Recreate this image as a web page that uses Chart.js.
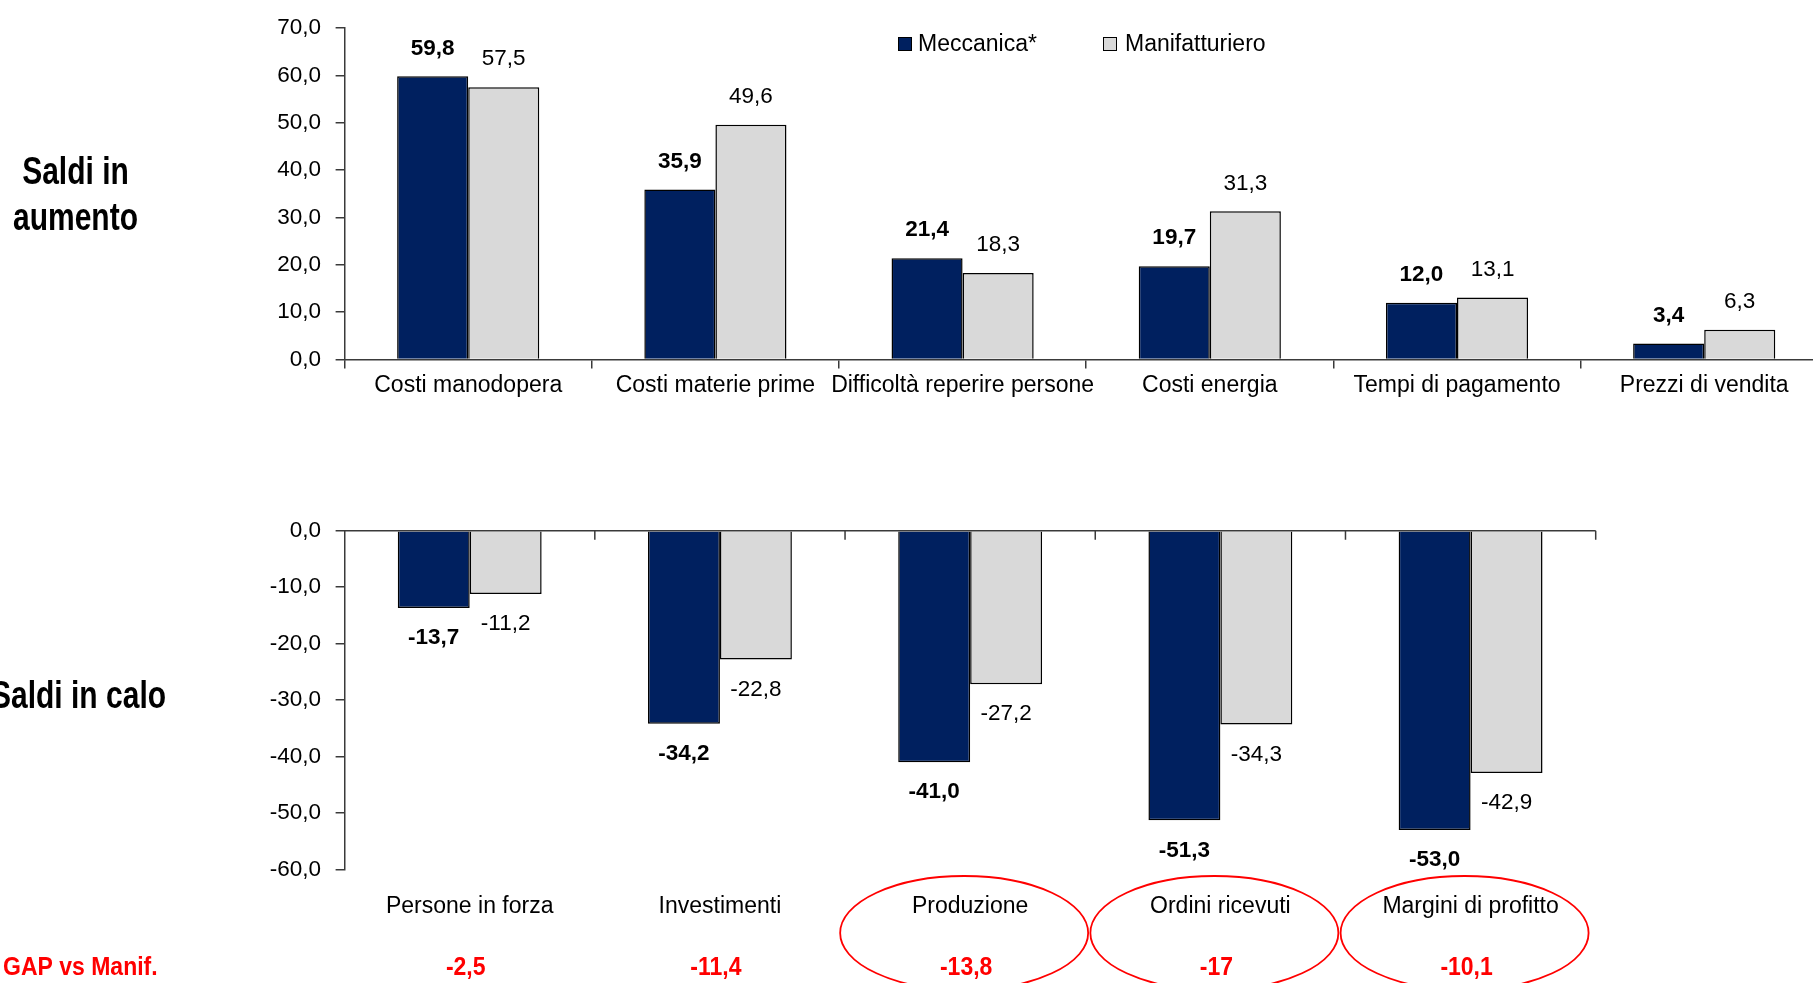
<!DOCTYPE html>
<html>
<head>
<meta charset="utf-8">
<script src="https://cdn.jsdelivr.net/npm/chart.js@4.4.1/dist/chart.umd.min.js"></script>
<style>
  body { margin: 0; background: #fff; }
  #wrap { position: relative; width: 1813px; height: 983px; overflow: hidden; background: #fff; }
  #wrap canvas { position: absolute; }
  .txt { position: absolute; font-family: 'Liberation Sans', Arial, sans-serif; color: #000; white-space: nowrap; }
  .title { font-weight: bold; font-size: 30px; line-height: 30px; transform: scaleY(1.3); transform-origin: 50% 50%; }
  .leg { font-size: 23px; line-height: 26px; }
  .box { position: absolute; width: 12px; height: 12px; border: 1.5px solid #000; }
</style>
</head>
<body>
<div id="wrap">
  <canvas id="top" width="1840" height="430" style="left:0;top:0"></canvas>
  <canvas id="bottom" width="1813" height="513" style="left:0;top:470px"></canvas>

  <div class="txt title" style="left:0;top:156px;width:151px;text-align:center">Saldi in</div>
  <div class="txt title" style="left:0;top:202px;width:151px;text-align:center">aumento</div>
  <div class="txt title" style="left:-9px;top:680px">Saldi in calo</div>

  <div class="box" style="left:898px;top:37px;background:#00205F"></div>
  <div class="txt leg" style="left:918px;top:30px">Meccanica*</div>
  <div class="box" style="left:1103px;top:37px;background:#D9D9D9"></div>
  <div class="txt leg" style="left:1125px;top:30px">Manifatturiero</div>
</div>
<script>
var FAMILY = "'Liberation Sans', Arial, sans-serif";
var NAVY = '#00205F';
var GREY = '#D9D9D9';
var AXIS = '#3a3a3a';

// dati - saldi in aumento
var upCategories = ['Costi manodopera', 'Costi materie prime', 'Difficoltà reperire persone', 'Costi energia', 'Tempi di pagamento', 'Prezzi di vendita'];
var upMeccanica = [59.8, 35.9, 21.4, 19.7, 12.0, 3.4];
var upManif = [57.5, 49.6, 18.3, 31.3, 13.1, 6.3];
var upTicks = [0, 10, 20, 30, 40, 50, 60, 70];

// dati - saldi in calo
var downCategories = ['Persone in forza', 'Investimenti', 'Produzione', 'Ordini ricevuti', 'Margini di profitto'];
var downMeccanica = [-13.7, -34.2, -41.0, -51.3, -53.0];
var downManif = [-11.2, -22.8, -27.2, -34.3, -42.9];
var downTicks = [0, -10, -20, -30, -40, -50, -60];

// gap vs manifatturiero
var gapValues = [-2.5, -11.4, -13.8, -17, -10.1];
var gapCircled = [false, false, true, true, true];

function fmt(v) {
  return v.toFixed(1).replace('.', ',');
}

var valueLabels = {
  id: 'valueLabels',
  afterDatasetsDraw: function (chart) {
    var ctx = chart.ctx;
    chart.data.datasets.forEach(function (ds, i) {
      var meta = chart.getDatasetMeta(i);
      meta.data.forEach(function (bar, j) {
        var v = ds.data[j];
        ctx.save();
        ctx.font = (i === 0 ? 'bold ' : '') + '22.5px ' + FAMILY;
        ctx.fillStyle = '#000';
        ctx.textAlign = 'center';
        ctx.textBaseline = 'middle';
        ctx.fillText(fmt(v), bar.x, v >= 0 ? bar.y - 28 : bar.y + 30);
        ctx.restore();
      });
    });
  }
};

// linea dello zero con tacche verso il basso (grafico in basso)
var zeroAxis = {
  id: 'zeroAxis',
  afterDatasetsDraw: function (chart) {
    var ctx = chart.ctx, x = chart.scales.x, y = chart.scales.y, area = chart.chartArea;
    var y0 = y.getPixelForValue(0);
    ctx.save();
    ctx.strokeStyle = AXIS;
    ctx.lineWidth = 1.5;
    ctx.beginPath();
    ctx.moveTo(area.left, y0);
    ctx.lineTo(area.right, y0);
    for (var i = 0; i < chart.data.labels.length; i++) {
      var px = x.getPixelForValue(i + 0.5);
      ctx.moveTo(px, y0);
      ctx.lineTo(px, y0 + 9);
    }
    ctx.stroke();
    ctx.restore();
  }
};

var gapRow = {
  id: 'gapRow',
  afterDraw: function (chart) {
    var ctx = chart.ctx, x = chart.scales.x;
    var rowY = 498;
    ctx.save();
    gapValues.forEach(function (g, i) {
      var cx = x.getPixelForValue(i);
      if (gapCircled[i]) {
        ctx.strokeStyle = '#FF0000';
        ctx.lineWidth = 1.8;
        ctx.beginPath();
        ctx.ellipse(cx - 6, 463, 124, 57, 0, 0, Math.PI * 2);
        ctx.stroke();
      }
    });
    // testo rosso leggermente allungato in verticale come nell'originale
    ctx.translate(0, rowY);
    ctx.scale(1, 1.15);
    ctx.fillStyle = '#FF0000';
    ctx.font = 'bold 23px ' + FAMILY;
    ctx.textBaseline = 'middle';
    ctx.textAlign = 'center';
    gapValues.forEach(function (g, i) {
      var cx = x.getPixelForValue(i);
      ctx.fillText(Number.isInteger(g) ? String(g) : fmt(g), cx - 4, 0);
    });
    ctx.textAlign = 'left';
    ctx.fillText('GAP vs Manif.', 3, 0);
    ctx.restore();
  }
};

Chart.defaults.font.family = FAMILY;
Chart.defaults.font.size = 23;
Chart.defaults.color = '#000';

function barDataset(label, data, color) {
  return {
    label: label,
    data: data,
    backgroundColor: color,
    borderColor: '#000',
    borderWidth: 1.5,
    categoryPercentage: 0.575,
    barPercentage: 1
  };
}

function yAxis(min, max, ticks) {
  return {
    min: min,
    max: max,
    afterFit: function (s) { s.width = 344.6; },
    afterBuildTicks: function (s) { s.ticks = ticks.map(function (v) { return { value: v }; }); },
    border: { display: true, color: AXIS, width: 1.5 },
    grid: { drawOnChartArea: false, drawTicks: true, tickLength: 9, color: AXIS, lineWidth: 1.5 },
    ticks: {
      padding: 14.5,
      font: { size: 22.5 },
      callback: function (v) { return fmt(v); }
    }
  };
}

new Chart(document.getElementById('top'), {
  type: 'bar',
  data: {
    labels: upCategories,
    datasets: [
      barDataset('Meccanica*', upMeccanica, NAVY),
      barDataset('Manifatturiero', upManif, GREY)
    ]
  },
  options: {
    responsive: false,
    animation: false,
    devicePixelRatio: 1,
    layout: { padding: { top: 26.6, right: 12.2, left: 0, bottom: 0 } },
    plugins: { legend: { display: false }, tooltip: { enabled: false } },
    scales: {
      x: {
        afterFit: function (s) { s.height = 70.4; },
        border: { display: true, color: AXIS, width: 1.5 },
        grid: { offset: true, drawOnChartArea: false, drawTicks: true, tickLength: 9, color: AXIS, lineWidth: 1.5 },
        ticks: { padding: 3, maxRotation: 0, autoSkip: false, font: { size: 23 } }
      },
      y: yAxis(0, 70, upTicks)
    }
  },
  plugins: [valueLabels]
});

new Chart(document.getElementById('bottom'), {
  type: 'bar',
  data: {
    labels: downCategories,
    datasets: [
      barDataset('Meccanica*', downMeccanica, NAVY),
      barDataset('Manifatturiero', downManif, GREY)
    ]
  },
  options: {
    responsive: false,
    animation: false,
    devicePixelRatio: 1,
    layout: { padding: { top: 60.7, right: 217.3, left: 0, bottom: 0 } },
    plugins: { legend: { display: false }, tooltip: { enabled: false } },
    scales: {
      x: {
        afterFit: function (s) { s.height = 113.5; },
        border: { display: false },
        grid: { display: false },
        ticks: { padding: 15, maxRotation: 0, autoSkip: false, font: { size: 23 } }
      },
      y: yAxis(-60, 0, downTicks)
    }
  },
  plugins: [valueLabels, zeroAxis, gapRow]
});
</script>
</body>
</html>
